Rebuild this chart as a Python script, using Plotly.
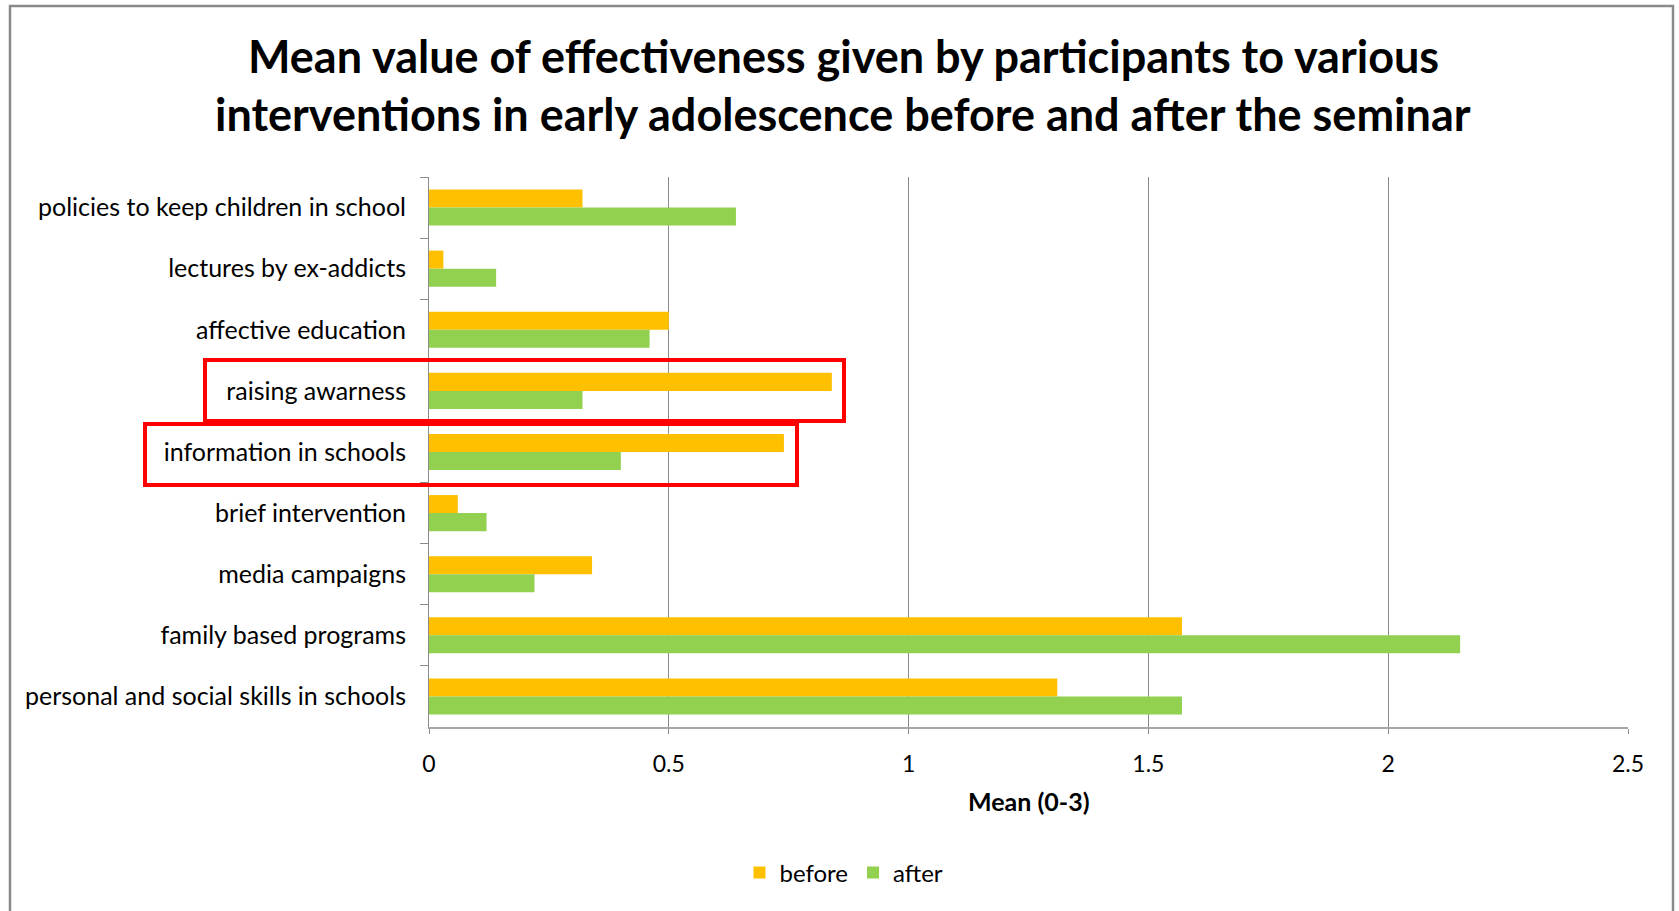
import plotly.graph_objects as go

# Interventions, listed top to bottom
categories = [
    "policies to keep children in school",
    "lectures by ex-addicts",
    "affective education",
    "raising awarness",
    "information in schools",
    "brief intervention",
    "media campaigns",
    "family based programs",
    "personal and social skills in schools",
]
before = [0.32, 0.03, 0.50, 0.84, 0.74, 0.06, 0.34, 1.57, 1.31]
after = [0.64, 0.14, 0.46, 0.32, 0.40, 0.12, 0.22, 2.15, 1.57]
x_ticks = [0, 0.5, 1, 1.5, 2, 2.5]
x_tick_labels = ["0", "0.5", "1", "1.5", "2", "2.5"]

W, H = 1679, 911
L, R, T, B = 429, 51, 177, 184
PW, PH = W - L - R, H - T - B

FONT = "Lato"
GRID = "#8c8c8c"


def px(x):
    return (x - L) / PW


def py(y):
    return (H - B - y) / PH


fig = go.Figure()
fig.add_trace(go.Bar(y=categories, x=before, name="before", orientation="h",
                     marker=dict(color="#FFC000", line=dict(width=0))))
fig.add_trace(go.Bar(y=categories, x=after, name="after", orientation="h",
                     marker=dict(color="#92D050", line=dict(width=0))))

shapes = [
    # outer chart frame
    dict(type="rect", xref="paper", yref="paper",
         x0=px(10), x1=px(1673), y0=py(6), y1=py(920),
         line=dict(color="#8a8a8a", width=2.5), layer="below"),
    # highlight boxes
    dict(type="rect", xref="paper", yref="paper",
         x0=px(205), x1=px(844), y0=py(360), y1=py(421),
         line=dict(color="#FF0000", width=4)),
    dict(type="rect", xref="paper", yref="paper",
         x0=px(145), x1=px(797), y0=py(424), y1=py(485),
         line=dict(color="#FF0000", width=4)),
]

annotations = [
    dict(text="<b>Mean value of effectiveness given by participants to various</b>",
         xref="paper", yref="paper", x=px(843), y=py(56), showarrow=False,
         xanchor="center", yanchor="middle",
         font=dict(family=FONT, size=45, color="#000000")),
    dict(text="<b>interventions in early adolescence before and after the seminar</b>",
         xref="paper", yref="paper", x=px(843), y=py(114), showarrow=False,
         xanchor="center", yanchor="middle",
         font=dict(family=FONT, size=45, color="#000000")),
]

fig.update_layout(
    width=W, height=H,
    margin=dict(l=L, r=R, t=T, b=B, autoexpand=False),
    paper_bgcolor="white", plot_bgcolor="white",
    barmode="group", bargap=0.41, bargroupgap=0,
    font=dict(family=FONT, color="#000000"),
    shapes=shapes,
    annotations=annotations,
    showlegend=True,
    legend=dict(orientation="h", x=px(844), y=py(873), xanchor="center",
                yanchor="middle", font=dict(family=FONT, size=24, color="#000000"),
                itemwidth=30, tracegroupgap=0),
    xaxis=dict(range=[0, 2.5], tickvals=x_ticks, ticktext=x_tick_labels,
               showgrid=True, gridcolor=GRID, gridwidth=1,
               zeroline=False, showline=True, linecolor="#a6a6a6", linewidth=2,
               ticks="outside", ticklen=5, tickcolor=GRID,
               ticklabelstandoff=10,
               tickfont=dict(family=FONT, size=23, color="#000000")),
    yaxis=dict(autorange="reversed", showgrid=False, zeroline=False,
               showline=True, linecolor=GRID, linewidth=1,
               ticks="outside", ticklen=8, tickcolor=GRID, tickson="boundaries",
               ticklabelstandoff=17,
               tickfont=dict(family=FONT, size=25, color="#000000")),
)

# axis title placed on its own so its height can be set exactly
fig.add_annotation(text="<b>Mean (0-3)</b>", xref="paper", yref="paper",
                   x=0.5, y=py(801), showarrow=False, xanchor="center",
                   yanchor="middle",
                   font=dict(family=FONT, size=25, color="#000000"))

fig.write_html("out.html")
